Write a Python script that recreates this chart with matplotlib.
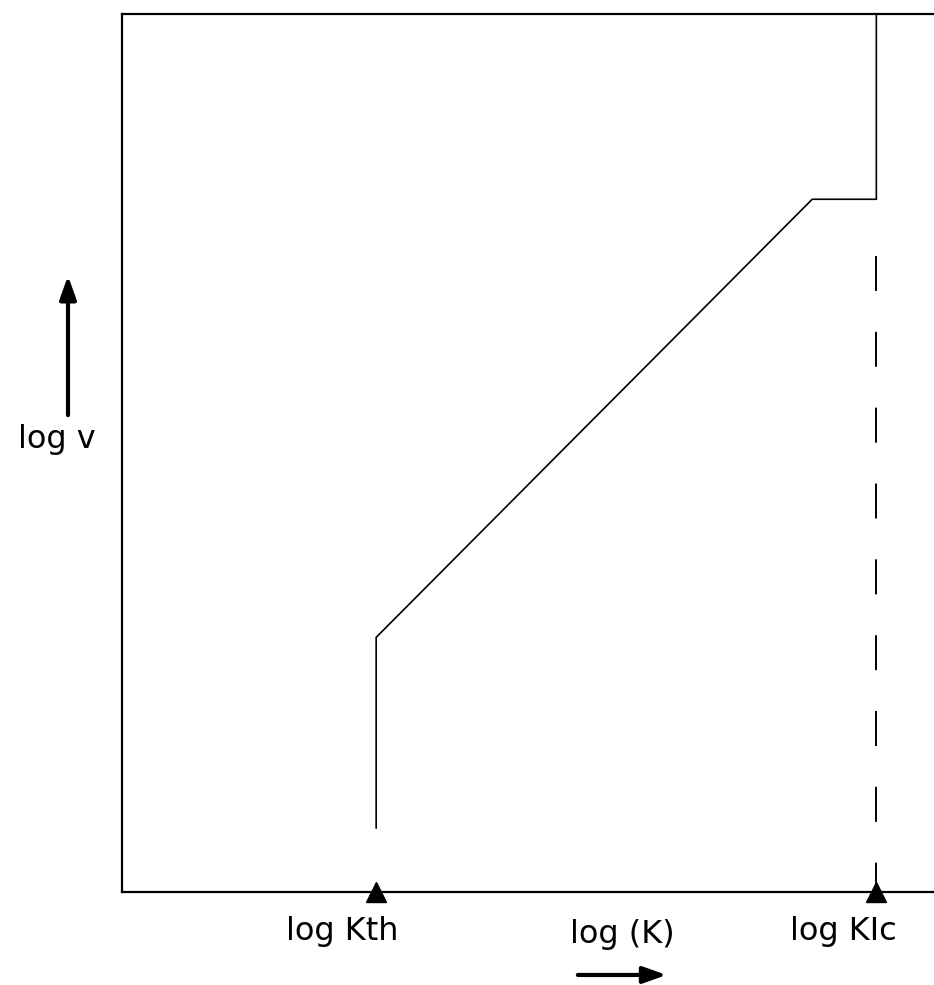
import numpy as np
import matplotlib.pyplot as plt

# crack growth curve, log v against log K (schematic units)
curve_x = [3.13, 3.13, 8.50, 9.29, 9.29]
curve_y = [0.73, 2.90, 7.89, 7.89, 10.0]

k_th = 3.13
k_ic = 9.29
dash_top = 7.24

marker_x = [k_th, k_ic]
marker_labels = ['log Kth', 'log KIc']
label_x = [2.71, 8.88]

fig = plt.figure(figsize=(9.34, 9.85), dpi=100)
ax = fig.add_axes([122 / 934, 93 / 985, 1 - 122 / 934, (892 - 14) / 985])
ax.set_xlim(0, 10)
ax.set_ylim(0, 10)

ax.plot(curve_x, curve_y, color='black', lw=1.2, solid_joinstyle='miter')
ax.plot([k_ic, k_ic], [dash_top, 0], color='black', lw=1.4, dashes=(18, 21))
ax.plot(marker_x, [0, 0], ls='none', marker='^', ms=14, color='black',
        clip_on=False, zorder=5)

for sp in ['left', 'top', 'bottom']:
    ax.spines[sp].set_linewidth(1.6)
ax.spines['right'].set_visible(False)
ax.set_xticks([])
ax.set_yticks([])

fs = 23
for x, lab in zip(label_x, marker_labels):
    ax.text(x, -0.45, lab, fontsize=fs, ha='center', va='center', clip_on=False)
ax.text(6.16, -0.48, 'log (K)', fontsize=fs, ha='center', va='center', clip_on=False)
ax.text(-0.80, 5.15, 'log v', fontsize=fs, ha='center', va='center', clip_on=False)

arrow = dict(arrowstyle='-|>,head_length=1.4,head_width=0.5', color='black', lw=3)
ax.annotate('', xy=(-0.665, 7.05), xytext=(-0.665, 5.40), arrowprops=arrow,
            annotation_clip=False)
ax.annotate('', xy=(6.74, -0.945), xytext=(5.58, -0.945), arrowprops=arrow,
            annotation_clip=False)

fig.savefig('out.png', dpi=100)
